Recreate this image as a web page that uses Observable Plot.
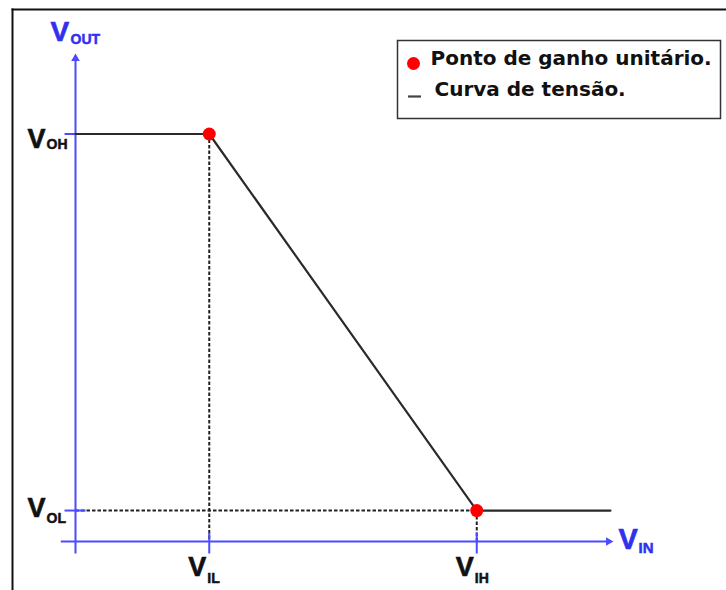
<!DOCTYPE html>
<html>
<head>
<meta charset="utf-8">
<script src="https://cdn.jsdelivr.net/npm/d3@7"></script>
<script src="https://cdn.jsdelivr.net/npm/@observablehq/plot@0.6"></script>
<style>
  html, body { margin: 0; padding: 0; background: #fff; }
  #chart svg { display: block; }
</style>
</head>
<body>
<div id="chart"></div>
<script>
// Inverter voltage transfer characteristic (VTC)
const VIL = 1;     // input low threshold
const VIH = 3;     // input high threshold
const VOH = 5;     // output high level
const VOL = 0.38;  // output low level

// piecewise transfer curve
const curveVin = [0, VIL, VIH, 4];
const curveVout = [VOH, VOH, VOL, VOL];

// unity-gain points
const unityVin = [VIL, VIH];
const unityVout = [VOH, VOL];

// axis tick subscripts
const xTickSubs = ["IL", "IH"];
const yTickSubs = ["OH", "OL"];
const xTickVals = [VIL, VIH];
const yTickVals = [VOH, VOL];

// legend entries
const legendLabels = ["Ponto de ganho unitário.", "Curva de tensão."];

const curve = curveVin.map((x, i) => ({x, y: curveVout[i]}));
const unity = unityVin.map((x, i) => ({x, y: unityVout[i]}));
const xTicks = xTickVals.map((v, i) => ({v, sub: xTickSubs[i]}));
const yTicks = yTickVals.map((v, i) => ({v, sub: yTickSubs[i]}));

const blue = "#3030f0";
const axisBlue = "#4b4bff";
const ink = "#111";
const labelFont = "'Liberation Sans', Arial, sans-serif";
const legendFont = "'DejaVu Sans', Verdana, sans-serif";

// shared style for the big "V" and its subscript (slightly stroked for weight)
const bigV = (fill, size = 27) => ({fontSize: size, fontWeight: "bold", textAnchor: "start", lineAnchor: "bottom", fill, stroke: fill, strokeWidth: 0.7});
const subV = (fill, size = 14) => ({fontSize: size, fontWeight: "bold", textAnchor: "start", lineAnchor: "bottom", fill, stroke: fill, strokeWidth: 0.5});

const dash = {draw(ctx) { const w = 6.5; ctx.moveTo(-w, 0); ctx.lineTo(w, 0); }};
const guide = {stroke: "#222", strokeWidth: 2, strokeDasharray: "3.5,2"};

const chart = Plot.plot({
  width: 726,
  height: 590,
  margin: 0,
  x: {domain: [0, 4], range: [75, 610], axis: null},
  y: {domain: [0, 6], range: [541, 52], axis: null},
  style: {background: "#fff", fontFamily: labelFont},
  marks: [
    // outer border (top and left edges)
    Plot.frame({anchor: "top", insetTop: 9, insetLeft: 12, stroke: ink, strokeWidth: 2}),
    Plot.frame({anchor: "left", insetTop: 9, insetLeft: 12, stroke: ink, strokeWidth: 2}),

    // guide lines to the thresholds
    Plot.link([VOL], {x1: 0, x2: VIH, y1: d => d, y2: d => d, ...guide}),
    Plot.link(unity, {x1: "x", x2: "x", y1: "y", y2: 0, ...guide}),

    // axes
    Plot.link([0], {x1: -0.11, x2: 3.99, y1: 0, y2: 0, stroke: axisBlue, strokeWidth: 2}),
    Plot.link([0], {x1: 0, x2: 0, y1: -0.147, y2: 5.93, stroke: axisBlue, strokeWidth: 2}),
    Plot.dot([0], {x: 4, y: 0, symbol: "triangle", rotate: 90, r: 3.2, fill: axisBlue, dx: -2}),
    Plot.dot([0], {x: 0, y: 6, symbol: "triangle", r: 3.2, fill: axisBlue, dy: 6}),

    // tick marks crossing the axes
    Plot.link(yTicks, {x1: -0.082, x2: 0.075, y1: "v", y2: "v", stroke: axisBlue, strokeWidth: 2}),
    Plot.link(xTicks, {x1: "v", x2: "v", y1: 0.11, y2: -0.147, stroke: axisBlue, strokeWidth: 2}),

    // transfer curve
    Plot.line(curve, {x: "x", y: "y", stroke: "#2a2a2a", strokeWidth: 2.2}),

    // unity-gain points
    Plot.dot(unity, {x: "x", y: "y", r: 6.5, fill: "#ff0000"}),

    // y tick labels V_OH, V_OL
    Plot.text(yTicks.filter(d => d.sub === "OH"), {x: 0, y: "v", text: () => "V", dx: -48, dy: 13.5, ...bigV(ink)}),
    Plot.text(yTicks.filter(d => d.sub === "OH"), {x: 0, y: "v", text: "sub", dx: -29, dy: 15, ...subV(ink)}),
    Plot.text(yTicks.filter(d => d.sub === "OL"), {x: 0, y: "v", text: () => "V", dx: -48, dy: 6, ...bigV(ink)}),
    Plot.text(yTicks.filter(d => d.sub === "OL"), {x: 0, y: "v", text: "sub", dx: -29, dy: 12, ...subV(ink)}),

    // x tick labels V_IL, V_IH
    Plot.text(xTicks, {x: "v", y: 0, text: () => "V", dx: -21, dy: 34, ...bigV(ink)}),
    Plot.text(xTicks, {x: "v", y: 0, text: "sub", dx: -2, dy: 41, ...subV(ink)}),

    // axis titles V_OUT, V_IN
    Plot.text([0], {x: 0, y: 6, text: () => "V", dx: -25, dy: -12, ...bigV(blue, 28)}),
    Plot.text([0], {x: 0, y: 6, text: () => "OUT", dx: -5, dy: -9, ...subV(blue)}),
    Plot.text([0], {x: 4, y: 0, text: () => "V", dx: 8, dy: 7, ...bigV(blue, 29)}),
    Plot.text([0], {x: 4, y: 0, text: () => "IN", dx: 28, dy: 11, ...subV(blue, 15)}),

    // legend box
    Plot.frame({insetLeft: 397, insetTop: 40, insetRight: 6, insetBottom: 472, stroke: "#333", strokeWidth: 1.5}),
    Plot.dot([0], {frameAnchor: "top-left", dx: 413, dy: 63, r: 6.5, fill: "#ff0000"}),
    Plot.dot([0], {frameAnchor: "top-left", dx: 414, dy: 96, symbol: dash, r: 5, stroke: "#444", strokeWidth: 2.2}),
    Plot.text(legendLabels.slice(0, 1), {frameAnchor: "top-left", dx: 430, dy: 64, text: d => d,
      fontFamily: legendFont, fontSize: 20, fontWeight: "bold", textAnchor: "start", lineAnchor: "bottom", fill: ink}),
    Plot.text(legendLabels.slice(1), {frameAnchor: "top-left", dx: 434, dy: 95, text: d => d,
      fontFamily: legendFont, fontSize: 20, fontWeight: "bold", textAnchor: "start", lineAnchor: "bottom", fill: ink})
  ]
});

document.getElementById("chart").appendChild(chart);
</script>
</body>
</html>
